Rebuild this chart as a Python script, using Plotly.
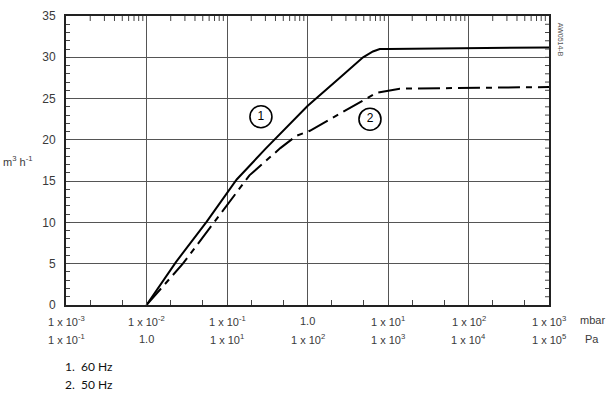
import math
import plotly.graph_objects as go

# ---- data (pressure in mbar, pumping speed in m3/h) ----
p60 = [0.01, 0.0232, 0.056, 0.132, 0.3, 1.0, 2.5, 4.9, 6.5, 7.9, 10, 100, 1000]
s60 = [0.0, 5.2, 10.1, 15.2, 18.9, 24.1, 27.5, 30.0, 30.7, 31.0, 31.0, 31.1, 31.2]

p50 = [0.01, 0.0283, 0.069, 0.115, 0.19, 0.46, 0.73, 1.07, 3.0, 7.2, 14, 100, 1000]
s50 = [0.0, 5.0, 10.0, 12.9, 15.7, 19.0, 20.5, 21.1, 23.6, 25.7, 26.2, 26.3, 26.4]

tick_mbar = [1e-3, 1e-2, 1e-1, 1.0, 1e1, 1e2, 1e3]
mbar_labels = ["1 x 10<sup>-3</sup>", "1 x 10<sup>-2</sup>", "1 x 10<sup>-1</sup>", "1.0",
               "1 x 10<sup>1</sup>", "1 x 10<sup>2</sup>", "1 x 10<sup>3</sup>"]
pa_labels = ["1 x 10<sup>-1</sup>", "1.0", "1 x 10<sup>1</sup>", "1 x 10<sup>2</sup>",
             "1 x 10<sup>3</sup>", "1 x 10<sup>4</sup>", "1 x 10<sup>5</sup>"]

curve_ids = ["1", "2"]
curve_label_x = [0.264, 5.97]
curve_label_y = [22.8, 22.5]
legend_lines = ["1.  60 Hz", "2.  50 Hz"]

FONT = "Liberation Sans"
GREY = "#3a3a3a"
TICK = "#444444"

fig = go.Figure()
fig.add_trace(go.Scatter(x=p60, y=s60, mode="lines",
                         line=dict(color="black", width=2), hoverinfo="skip"))
fig.add_trace(go.Scatter(x=p50, y=s50, mode="lines",
                         line=dict(color="black", width=2, dash="22px,6px,6px,6px"),
                         hoverinfo="skip"))
fig.add_trace(go.Scatter(x=curve_label_x, y=curve_label_y, mode="markers+text",
                         text=curve_ids, textposition="middle center",
                         textfont=dict(family=FONT, size=12, color="black"),
                         marker=dict(symbol="circle-open", size=22,
                                     line=dict(color="black", width=1.6), color="black"),
                         hoverinfo="skip"))

fig.update_layout(
    width=607, height=396,
    margin=dict(l=66, r=58, t=9, b=91),
    paper_bgcolor="white", plot_bgcolor="white",
    showlegend=False,
    font=dict(family=FONT, color=GREY),
)

fig.update_xaxes(
    type="log", range=[-3, 3],
    tickvals=tick_mbar, showticklabels=False,
    showgrid=True, gridcolor="#555555", gridwidth=1,
    ticks="inside", ticklen=0, tickcolor="#222",
    minor=dict(ticks="inside", ticklen=5, tickcolor=TICK, showgrid=False),
    showline=True, linecolor="#222", linewidth=2, mirror=True,
    zeroline=False,
)
fig.update_yaxes(
    range=[0, 35], dtick=5,
    showgrid=True, gridcolor="#555555", gridwidth=1,
    ticks="inside", ticklen=4, tickcolor=TICK,
    minor=dict(dtick=1, ticks="inside", ticklen=4, tickcolor=TICK, showgrid=False),
    showline=True, linecolor="#222", linewidth=2, mirror=True,
    tickfont=dict(family=FONT, size=12, color=GREY),
    ticklabelstandoff=6,
    zeroline=False,
)

# mirrored minor ticks on the top and right frame (axis decoration)
for n in range(-3, 3):
    for k in range(2, 10):
        xv = k * 10.0 ** n
        fig.add_shape(type="line", xref="x", yref="paper", ysizemode="pixel",
                      yanchor=1, x0=xv, x1=xv,
                      y0=0, y1=-5, line=dict(color=TICK, width=1), layer="above")
for v in range(1, 35):
    fig.add_shape(type="line", xref="paper", yref="y", xsizemode="pixel",
                  xanchor=1, x0=0, x1=-4, y0=v, y1=v,
                  line=dict(color=TICK, width=1), layer="above")

# two rows of x tick labels
for v, m, pa in zip(tick_mbar, mbar_labels, pa_labels):
    fig.add_annotation(x=math.log10(v), xref="x", y=0, yref="paper",
                       text=m, showarrow=False, xanchor="center", yanchor="middle",
                       yshift=-16, font=dict(family=FONT, size=11, color=GREY))
    fig.add_annotation(x=math.log10(v), xref="x", y=0, yref="paper",
                       text=pa, showarrow=False, xanchor="center", yanchor="middle",
                       yshift=-34, font=dict(family=FONT, size=11, color=GREY))

fig.add_annotation(x=1.06, xref="paper", y=0, yref="paper", text="mbar",
                   showarrow=False, xanchor="left", yanchor="middle", yshift=-15,
                   font=dict(family=FONT, size=11, color=GREY))
fig.add_annotation(x=1.07, xref="paper", y=0, yref="paper", text="Pa",
                   showarrow=False, xanchor="left", yanchor="middle", yshift=-34,
                   font=dict(family=FONT, size=11, color=GREY))

# y-axis unit
fig.add_annotation(x=-0.101, xref="paper", y=0.50, yref="paper",
                   text="m<sup>3</sup> h<sup>-1</sup>", showarrow=False,
                   xanchor="center", yanchor="middle",
                   font=dict(family=FONT, size=11, color=GREY))

# drawing code
fig.add_annotation(x=1.024, xref="paper", y=0.985, yref="paper", text="AW0514-B",
                   showarrow=False, textangle=90, xanchor="center", yanchor="top",
                   font=dict(family=FONT, size=7, color="#555"))

# legend lines
for i, t in enumerate(legend_lines):
    fig.add_annotation(x=-0.006, xref="paper", y=0, yref="paper", text=t,
                       showarrow=False, xanchor="left", yanchor="middle",
                       yshift=-61 - 18 * i,
                       font=dict(family="Lato", size=12, color="#111"))

fig.write_html("out.html", config={"displayModeBar": False})
with open("out.html", encoding="utf-8") as f:
    html = f.read()
html = html.replace("<head>", "<head><style>html,body{margin:0;padding:0;overflow:hidden;}</style>", 1)
with open("out.html", "w", encoding="utf-8") as f:
    f.write(html)
